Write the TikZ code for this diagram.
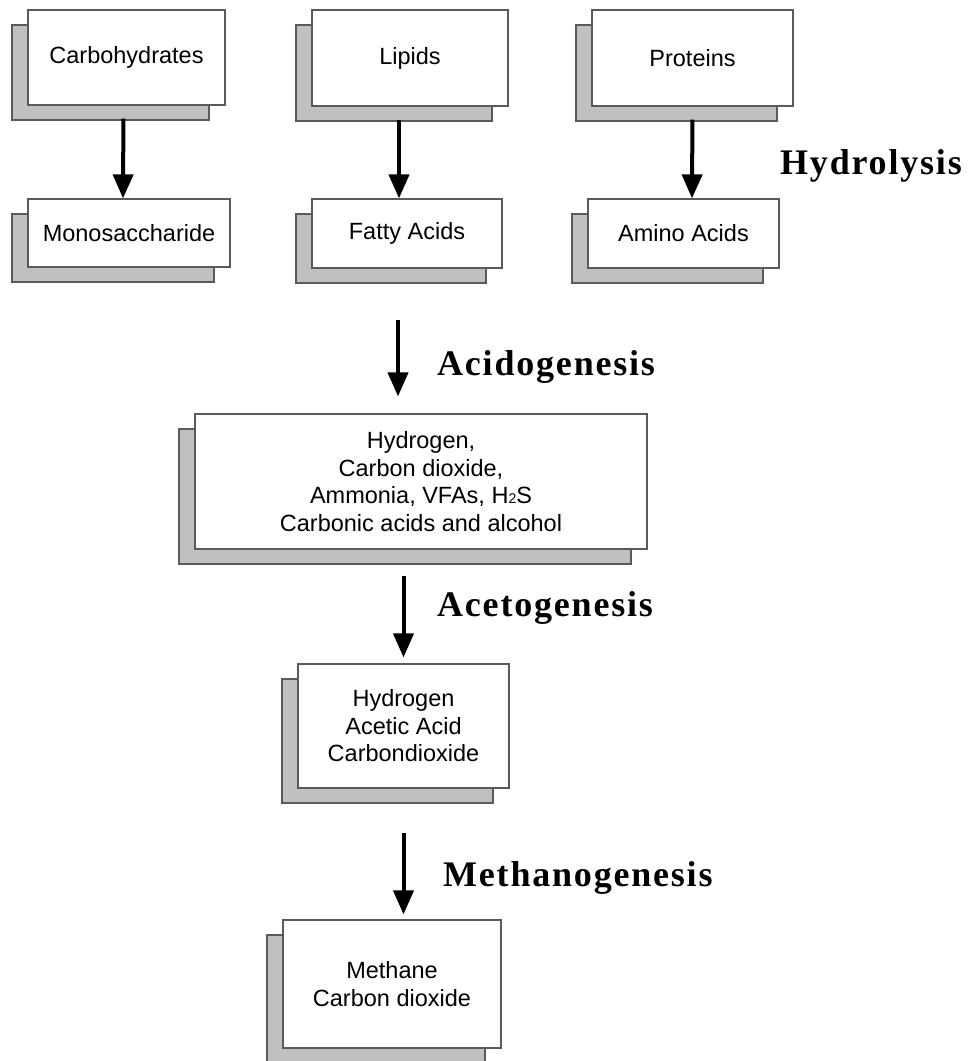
\documentclass[tikz,border=0pt]{standalone}
\usepackage{fontspec}
\setmainfont{Liberation Sans}
\newfontfamily\phasefont{Liberation Serif}[LetterSpace=5]
\usetikzlibrary{arrows.meta,shadows}
\definecolor{boxline}{RGB}{90,90,90}
\definecolor{shadowgray}{RGB}{192,192,192}

\begin{document}
\begin{tikzpicture}[x=1pt,y=-1pt,
  sbox/.style={draw=boxline,fill=white,line width=1.2pt,align=center,inner sep=0pt,
    font=\fontsize{23.5}{27.5}\selectfont,
    copy shadow={shadow xshift=-16pt,shadow yshift=-15pt,fill=shadowgray,draw=boxline}},
  flow/.style={line width=4pt,-{Triangle[width=20pt,length=24pt]}},
  phase/.style={anchor=base west,inner sep=0pt,font=\phasefont\bfseries\fontsize{36}{42}\selectfont}]
\useasboundingbox (0,0) rectangle (969,1061);
\node[sbox,minimum width=197pt,minimum height=95pt] (carb) at (126.5,57.5) {Carbohydrates};
\node[sbox,minimum width=196pt,minimum height=96pt] (lipid) at (410,58) {Lipids};
\node[sbox,minimum width=201pt,minimum height=96pt] (prot) at (692.5,58) {Proteins};
\node[sbox,minimum width=202pt,minimum height=68pt] (mono) at (129,233) {Monosaccharide};
\node[sbox,minimum width=190pt,minimum height=69pt] (fatty) at (407,233.5) {Fatty Acids};
\node[sbox,minimum width=191pt,minimum height=69pt] (amino) at (683.5,233.5) {Amino Acids};
\node[sbox,minimum width=452pt,minimum height=135pt] (mix) at (421,481.5)
  {Hydrogen,\\Carbon dioxide,\\Ammonia, VFAs, H{\fontsize{14}{14}\selectfont 2}S\\Carbonic acids and alcohol};
\node[sbox,minimum width=211pt,minimum height=124pt] (acet) at (403.5,726)
  {Hydrogen\\Acetic Acid\\Carbondioxide};
\node[sbox,minimum width=218pt,minimum height=128pt] (meth) at (392,984)
  {Methane\\Carbon dioxide};
\draw[flow,shorten <=13pt] ([xshift=-3pt]carb.south) -- ([xshift=-6pt]mono.north);
\draw[flow,shorten <=13pt] ([xshift=-11pt]lipid.south) -- ([xshift=-8pt]fatty.north);
\draw[flow,shorten <=13pt] (prot.south) -- ([xshift=8.5pt]amino.north);
\coordinate (acidtop) at (398,320);
\draw[flow,shorten >=17pt] (acidtop) -- (acidtop |- mix.north);
\draw[flow,shorten <=26pt,shorten >=6pt] (mix.south -| acet.north) -- (acet.north);
\draw[flow,shorten <=44pt,shorten >=5pt] (acet.south) -- (acet.south |- meth.north);
\node[phase] (hydro) at (780,174) {Hydrolysis};
\node[phase] (acido) at (437,375) {Acidogenesis};
\node[phase] (aceto) at (437,616) {Acetogenesis};
\node[phase] (metha) at (443,886) {Methanogenesis};
\end{tikzpicture}
\end{document}
